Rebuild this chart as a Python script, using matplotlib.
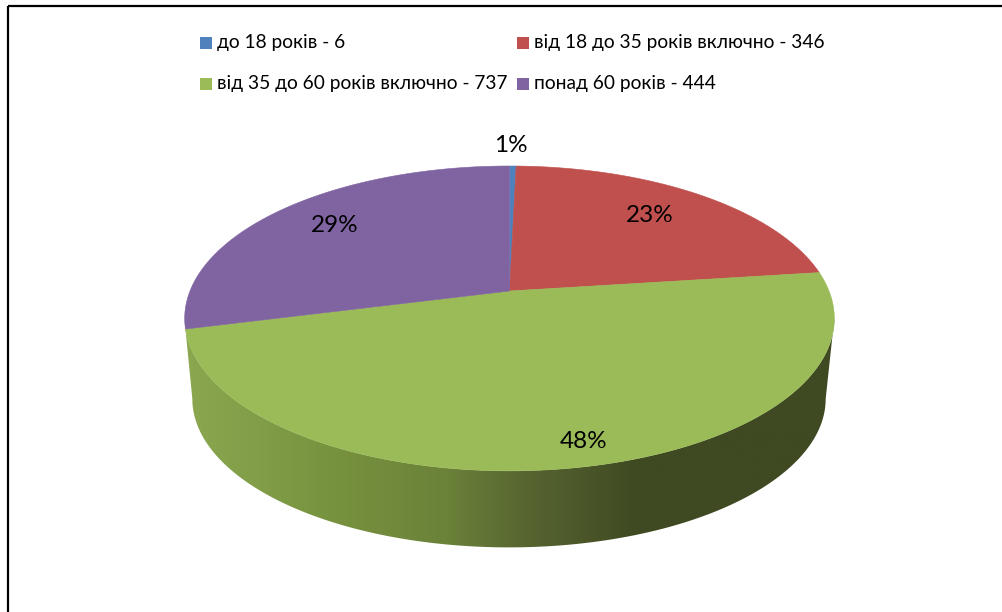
import numpy as np
import matplotlib
matplotlib.use("Agg")
import matplotlib.pyplot as plt
from matplotlib.patches import Polygon, Rectangle
from matplotlib.colors import LinearSegmentedColormap

plt.rcParams['font.family'] = ['Lato', 'Noto Sans', 'DejaVu Sans']

categories = ["до 18 років - 6", "від 18 до 35 років включно - 346",
              "від 35 до 60 років включно - 737", "понад 60 років - 444"]
values = [6, 346, 737, 444]
pct_labels = ["1%", "23%", "48%", "29%"]
colors = ["#4F81BD", "#C0504D", "#9BBB59", "#8064A2"]

W, H = 1003, 612
fig = plt.figure(figsize=(W / 100, H / 100), dpi=100)
ax = fig.add_axes([0, 0, 1, 1])
ax.set_xlim(0, W)
ax.set_ylim(H, 0)
ax.axis("off")

# perspective projection of the pie disc
CX, CY = 509.5, 291.0
A, B, P = 319.5, 147.5, 0.18
BCX, BCY, BS = 509.0, 372.0, 0.975   # base disc, a scaled copy further down


def project(theta, scale=1.0, cx=CX, cy=CY):
    """theta is clockwise from 12 o'clock, in radians."""
    X, Y = np.sin(theta), np.cos(theta)
    d = 1 + P * Y
    return cx + scale * A * X / d, cy - scale * B * Y / d


bounds = np.cumsum([0] + values) / sum(values) * 2 * np.pi

# side wall, with a left to right shading
right_t = np.arccos(-P)          # rightmost point of the discs
t_top = np.linspace(right_t, bounds[3], 300)
t_bot = np.linspace(2 * np.pi - right_t, right_t, 300)
xt, yt = project(t_top)
xb, yb = project(t_bot, BS, BCX, BCY)
side = Polygon(np.r_[np.c_[xt, yt], np.c_[xb, yb]], closed=True,
               facecolor="none", edgecolor="none")
ax.add_patch(side)
stops = [(0.0, "#8BA850"), (0.22, "#78933F"), (0.40, "#6B8239"), (0.53, "#566430"),
         (0.70, "#3F4922"), (1.0, "#3F4922")]
cmap = LinearSegmentedColormap.from_list("wall", stops)
grad = np.linspace(0, 1, 512).reshape(1, -1)
im = ax.imshow(grad, cmap=cmap, extent=(185, 835, 560, 300), aspect="auto",
               interpolation="bilinear", zorder=1)
im.set_clip_path(side)
ax.set_xlim(0, W)
ax.set_ylim(H, 0)

# top disc slices
for i, c in enumerate(colors):
    th = np.linspace(bounds[i], bounds[i + 1], 200)
    x, y = project(th)
    ax.add_patch(Polygon(np.r_[[[CX, CY]], np.c_[x, y]], closed=True,
                         facecolor=c, edgecolor=c, linewidth=0.4, zorder=2))

# percentage labels
label_pos = [(511, 146), (650, 215), (584, 441), (335, 225)]
for s, (x, y) in zip(pct_labels, label_pos):
    ax.text(x, y, s, fontsize=17.5, color="black", ha="center", va="center", zorder=3)

# legend
leg_pos = [(200, 43), (517, 43), (200, 84), (517, 84)]
for s, c, (x, y) in zip(categories, colors, leg_pos):
    ax.add_patch(Rectangle((x, y - 6), 12, 12, facecolor=c, edgecolor="none", zorder=3))
    ax.text(x + 17, y - 0.5, s, fontsize=13.8, color="black", ha="left", va="center", zorder=3)

# frame
ax.plot([8, 8], [612, 5.5], color="black", lw=1.6, solid_capstyle="butt", zorder=4)
ax.plot([8, 1003], [5.5, 5.5], color="black", lw=1.6, solid_capstyle="butt", zorder=4)

fig.savefig("out.png", dpi=100, facecolor="white")
